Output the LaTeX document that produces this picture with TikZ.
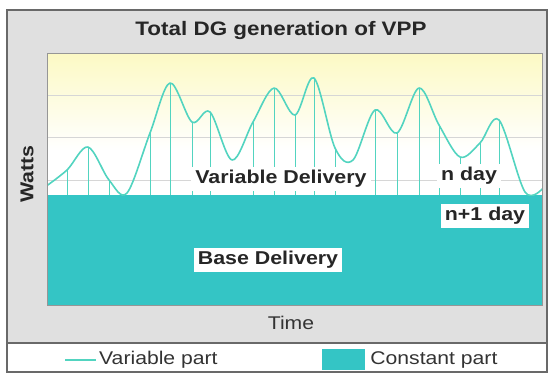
\documentclass[tikz,border=0pt]{standalone}
\usepackage{fontspec}
\setmainfont{Liberation Sans}[FakeStretch=1.15]
\usepackage{tikz}
\usetikzlibrary{positioning}
\definecolor{vppteal}{RGB}{52,197,197}
\definecolor{vppline}{RGB}{82,212,192}
\definecolor{vppyellow}{RGB}{252,249,196}
\definecolor{framegray}{RGB}{224,224,224}
\definecolor{framedark}{RGB}{105,105,105}
\definecolor{gridgray}{RGB}{214,214,214}
\tikzset{
	lbl/.style = {font=\bfseries\fontsize{18.6}{20}\selectfont, text=black!85,
		inner sep=2pt},% texte gras
	lblbox/.style = {lbl, fill=white, inner xsep=4pt, inner ysep=3pt},% texte sur fond blanc
	legtxt/.style = {font=\fontsize{18.4}{20}\selectfont, text=black!80,
		inner sep=1pt},% legende
	curve/.style = {vppline, line width=1.6pt, line join=round},% courbe variable
	drop/.style = {vppline, line width=0.9pt},% traits verticaux
	constkey/.style = {fill=vppteal, minimum width=43pt, minimum height=21pt,
		inner sep=0pt}% carre de legende
}
\begin{document}
\begin{tikzpicture}[x=1pt,y=-1pt]
\useasboundingbox (0,0) rectangle (551,373);
% cadre
\fill[white] (0,0) rectangle (551,373);
\fill[framegray] (7,10) rectangle (547,343);
\draw[framedark, line width=1.2pt] (7,10) rectangle (547,372);
\draw[framedark, line width=1.2pt] (7,343) -- (547,343);
% zone du graphe
\fill[white] (47,53) rectangle (542,195);
\shade[top color=vppyellow, bottom color=white] (47,53) rectangle (542,150);
\foreach \gy in {95,137,180}
	\draw[gridgray, line width=1pt] (47,\gy) -- (542,\gy);
\fill[vppteal] (47,195) rectangle (542,305);
\begin{scope}
\clip (47,53) rectangle (542,195);
\foreach \px/\py in {67/170,88/147,109/180,150/133,170/83,192/122,210/112,
	253/122,274/88,295/115,314/78,335/148,375/110,397/133,419/88,439/125,
	460/157,480/143,499/120}
	\draw[drop] (\px,\py) -- (\px,195);
\draw[curve] plot[smooth, tension=0.55] coordinates {(45,187) (67,170) (88,147)
	(109,180) (127,193) (150,133) (170,83) (192,122) (210,112) (232,160)
	(253,122) (274,88) (295,115) (314,78) (335,148) (353,160) (375,110)
	(397,133) (419,88) (439,125) (460,157) (480,143) (499,120) (525,192)
	(544,187)};
\end{scope}
\draw[framedark!70, line width=1pt] (47,53) rectangle (542,305);
% textes
\node[lbl, font=\bfseries\fontsize{19.5}{21}\selectfont] (title) at (281,30)
	{Total DG generation of VPP};
\node[lbl, rotate=90] (watts) at (27,174) {Watts};
\node[legtxt] (time) at (291,323) {Time};
\node[lblbox] (vdel) at (281,179) {Variable Delivery};
\node[lblbox] (nday) at (469,176) {n day};
\node[lblbox] (n1day) at (485,216) {n+1 day};
\node[lblbox] (bdel) at (268,260) {Base Delivery};
% legende
\coordinate (legA) at (65,360);
\coordinate (legB) at (96,360);
\draw[vppline, line width=2pt] (legA) -- (legB);
\node[legtxt, right=2pt of legB] (legvar) {Variable part};
\node[constkey] (legkey) at (343.5,359.5) {};
\node[legtxt, right=4pt of legkey] (legconst) {Constant part};
\end{tikzpicture}
\end{document}
